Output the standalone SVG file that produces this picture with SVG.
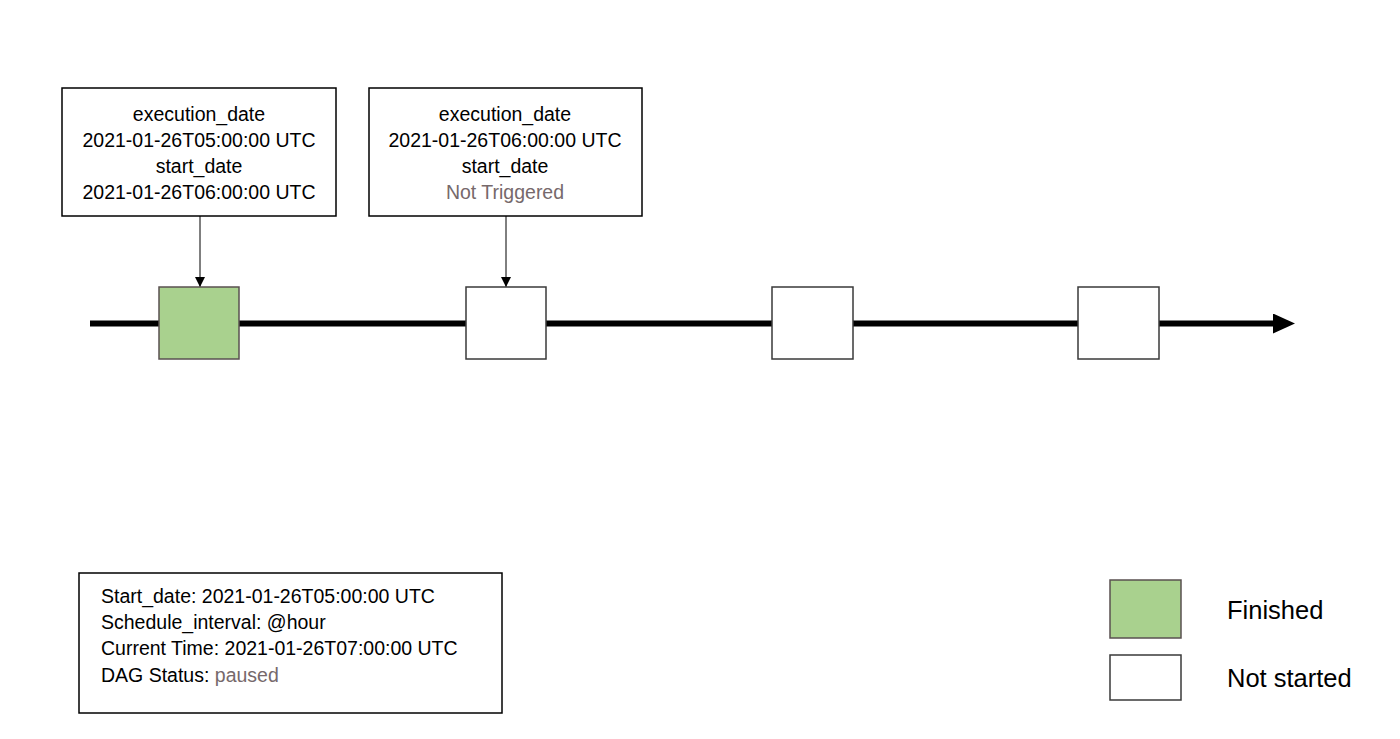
<svg xmlns="http://www.w3.org/2000/svg" width="1400" height="739" viewBox="0 0 1400 739">
<defs>
<marker id="ah" viewBox="0 0 10 10" refX="10" refY="5" markerWidth="10" markerHeight="10" markerUnits="userSpaceOnUse" orient="auto">
<path d="M0,0 L10,5 L0,10 z" fill="#000"/>
</marker>
<marker id="big" viewBox="0 0 22 20" refX="12" refY="10" markerWidth="22" markerHeight="20" markerUnits="userSpaceOnUse" orient="auto">
<path d="M0,0 L22,10 L0,20 z" fill="#000"/>
</marker>
</defs>
<style>
.t{font-family:"Liberation Sans",Arial,sans-serif;font-size:19.5px;fill:#000}
.c{text-anchor:middle}
.g{fill:#76696b}
.callout{fill:#fff;stroke:#000;stroke-width:1.5}
.run{fill:#fff;stroke:#3a3a3a;stroke-width:1.5}
.done{fill:#a9d18e;stroke:#5a5050;stroke-width:1.5}
.lg{font-family:"Liberation Sans",Arial,sans-serif;font-size:25.5px;fill:#000}
</style>
<rect width="1400" height="739" fill="#fff"/>
<g id="connectors">
<line x1="90" y1="323.5" x2="1285" y2="323.5" stroke="#000" stroke-width="6" marker-end="url(#big)"/>
<line x1="200" y1="216" x2="200" y2="287" stroke="#000" stroke-width="1" marker-end="url(#ah)"/>
<line x1="506" y1="216" x2="506" y2="287" stroke="#000" stroke-width="1" marker-end="url(#ah)"/>
</g>
<g id="run1"><rect class="done" x="159" y="287" width="80" height="72"/></g>
<g id="run2"><rect class="run" x="466" y="287" width="80" height="72"/></g>
<g id="run3"><rect class="run" x="772" y="287" width="81" height="72"/></g>
<g id="run4"><rect class="run" x="1078" y="287" width="81" height="72"/></g>
<g id="callout1">
<rect class="callout" x="62" y="88" width="274" height="128"/>
<text class="t c" x="199" y="121">execution_date</text>
<text class="t c" x="199" y="147">2021-01-26T05:00:00 UTC</text>
<text class="t c" x="199" y="173">start_date</text>
<text class="t c" x="199" y="199">2021-01-26T06:00:00 UTC</text>
</g>
<g id="callout2">
<rect class="callout" x="369" y="88" width="273" height="128"/>
<text class="t c" x="505" y="121">execution_date</text>
<text class="t c" x="505" y="147">2021-01-26T06:00:00 UTC</text>
<text class="t c" x="505" y="173">start_date</text>
<text class="t c g" x="505" y="199">Not Triggered</text>
</g>
<g id="info">
<rect class="callout" x="79" y="573" width="423" height="140"/>
<text class="t" x="101" y="603">Start_date: 2021-01-26T05:00:00 UTC</text>
<text class="t" x="101" y="629">Schedule_interval: @hour</text>
<text class="t" x="101" y="655">Current Time: 2021-01-26T07:00:00 UTC</text>
<text class="t" x="101" y="682">DAG Status: <tspan class="g">paused</tspan></text>
</g>
<g id="legend-finished">
<rect class="done" x="1110" y="580" width="71" height="58"/>
<text class="lg" x="1227" y="619">Finished</text>
</g>
<g id="legend-notstarted">
<rect class="run" x="1110" y="655" width="71" height="45"/>
<text class="lg" x="1227" y="687">Not started</text>
</g>
</svg>
